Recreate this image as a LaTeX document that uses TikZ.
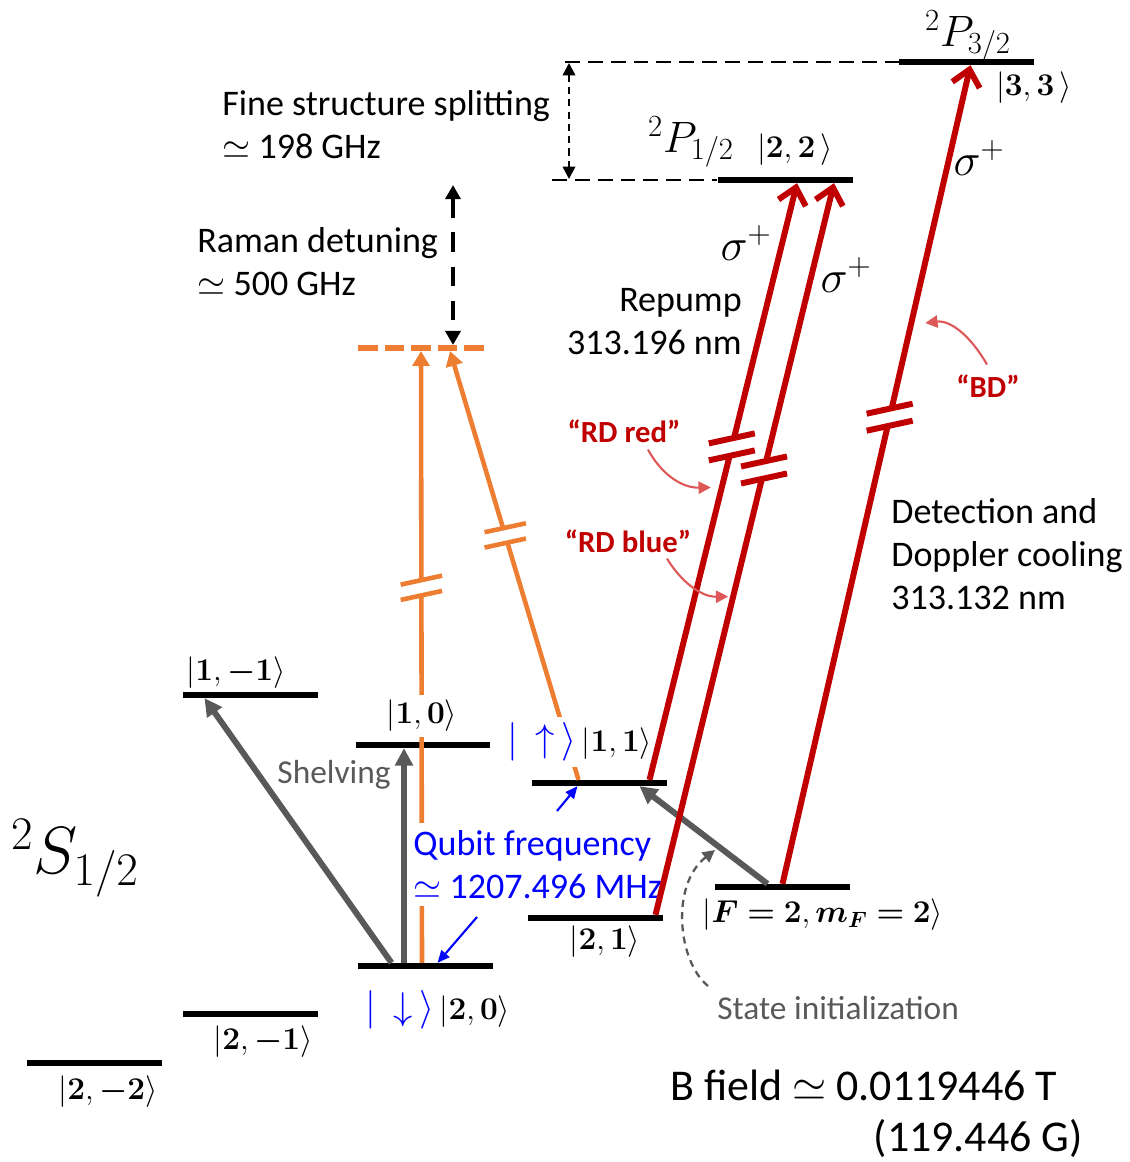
\documentclass[tikz,border=0pt]{standalone}
\usepackage{fix-cm}
\usepackage{amsmath}
\usepackage{bm}
\usepackage{fontspec}
\setmainfont{Carlito}
\usetikzlibrary{arrows.meta,calc}
\definecolor{rdark}{RGB}{192,0,0}
\definecolor{oran}{RGB}{237,125,49}
\definecolor{gdark}{RGB}{89,89,89}
\definecolor{rlight}{RGB}{222,88,88}
\begin{document}
\begin{tikzpicture}[x=0.02cm, y=-0.02cm,
  lvl/.style={fill=black, inner sep=0pt, minimum width=2.7cm, minimum height=3.2pt},
  ket/.style={font=\fontsize{18}{22}\selectfont, inner sep=1pt},
  txt/.style={font=\fontsize{20.5}{24.4}\selectfont, align=left, inner sep=0pt},
  lab/.style={font=\bfseries\fontsize{17.5}{20}\selectfont, text=rdark, inner sep=1pt},
  sig/.style={font=\fontsize{26}{30}\selectfont},
  gar/.style={draw=gdark, line width=3.4pt, -{Triangle[length=10pt,width=10pt]}},
  rar/.style={draw=rdark, line width=3.4pt, -{Straight Barb[length=9pt,width=16pt]}},
  oar/.style={draw=oran, line width=2.6pt, -{Triangle[length=8.5pt,width=9.5pt]}},
  blar/.style={draw=blue, line width=1.2pt, -{Triangle[length=7pt,width=6pt]}},
  note/.style={draw=rlight, line width=1.2pt, -{Triangle[length=7pt,width=7pt]}},
  brk/.pic={
    \fill[white] (-12,-5.9) -- (12,-11.1) -- (12,5.9) -- (-12,11.1) -- cycle;
    \draw (-23,-3.5) -- (23,-13.5);
    \draw (-23,13.5) -- (23,3.5);
  }
]
\useasboundingbox (0,0) rectangle (1129,1162);

\node[lvl] (s1m1) at (250.5,695) {};
\node[lvl] (s10) at (423,745) {};
\node[lvl] (s11) at (599.5,783) {};
\node[lvl] (s2m2) at (94.5,1063) {};
\node[lvl] (s2m1) at (250.5,1014) {};
\node[lvl] (s20) at (425.5,966) {};
\node[lvl] (s21) at (595.5,918) {};
\node[lvl] (s22) at (782.5,887) {};
\node[lvl] (p12) at (785,180) {};
\node[lvl] (p32) at (966.5,62) {};

\coordinate (ft) at (565,62);
\coordinate (fb) at (552,180);
\coordinate (fa) at (569,63);
\coordinate (fz) at (569,179);
\draw[line width=1.7pt, dash pattern=on 8.5pt off 4.5pt] (ft) -- (p32.west);
\draw[line width=1.7pt, dash pattern=on 8.5pt off 4.5pt] (fb) -- (p12.west);
\draw[line width=1.4pt, dash pattern=on 4pt off 3pt,
  {Triangle[length=7pt,width=7pt]}-{Triangle[length=7pt,width=7pt]}] (fa) -- (fz);

\coordinate (v1) at (421,351);
\coordinate (v2) at (450,351);
\draw[oran, line width=3.4pt, dash pattern=on 11.3pt off 3.8pt] (358,348) -- (488,348);
\coordinate (rt) at (453,185);
\coordinate (rb) at (453,345);
\draw[line width=2.6pt, dash pattern=on 11pt off 8.5pt,
  {Triangle[length=8pt,width=8.5pt]}-{Triangle[length=8pt,width=8.5pt]}] (rt) -- (rb);

\draw[oar] ($(s20.north)+(-3.5,0)$) -- (v1) coordinate[pos=0.613] (ko1);
\draw[oar] ($(s11.north)+(-21,0)$) -- (v2) coordinate[pos=0.57] (ko2);
\pic[oran, line width=2.6pt, scale=0.9] at (ko1) {brk};
\pic[oran, line width=2.6pt, scale=0.9] at (ko2) {brk};

\node[ket, fill=white, inner sep=3pt] (l10) at (422,716) {$|\bm{1},\bm{0}\rangle$};
\node[ket, fill=white, inner sep=3pt] (l11) at (580,742)
  {{\fontsize{22}{26}\selectfont\color{blue}$|\,\uparrow\,\rangle$}\,$|\bm{1},\bm{1}\rangle$};
\node[txt, text=blue, fill=white, inner sep=4pt,
  anchor=west] (qf) at (406,864.5) {Qubit frequency\\$\simeq$ 1207.496 MHz};

\draw[gar] ($(s20.north)+(-34,0)$) -- ($(s1m1.south)+(-46,0)$);
\draw[gar] ($(s20.north)+(-21.5,0)$) -- ($(s10.south)+(-19,0)$);
\draw[gar] ($(s22.north)+(-15,0)$) -- ($(s11.south)+(40,0)$);

\draw[rar] ($(s11.north)+(50,0)$) -- ($(p12.south)+(12,0)$)
  coordinate[pos=0.558] (kr1) coordinate[pos=0.49] (nr1);
\draw[rar] ($(s21.north)+(60,0)$) -- ($(p12.south)+(49,0)$)
  coordinate[pos=0.608] (kr2) coordinate[pos=0.435] (nr2);
\draw[rar] (s22.north) -- ($(p32.south)+(4,0)$)
  coordinate[pos=0.57] (kr3) coordinate[pos=0.685] (nr3);
\pic[rdark, line width=3.4pt] at (kr1) {brk};
\pic[rdark, line width=3.4pt] at (kr2) {brk};
\pic[rdark, line width=3.4pt] at (kr3) {brk};

\coordinate (qa) at (557,811);
\coordinate (qb) at (477,917);
\draw[blar] (qa) -- ($(s11.south)+(-22,0)$);
\draw[blar] (qb) -- ($(s20.north)+(12,0)$);

\node[lab] (rdr) at (624,431) {``RD red''};
\node[lab] (rdb) at (628,541) {``RD blue''};
\node[lab] (bd) at (988,386) {``BD''};
\draw[note] ($(rdr.south)+(24,5)$) .. controls (660,472) and (680,488) .. ($(nr1)+(-11,0)$);
\draw[note] ($(rdb.south)+(39,4)$) .. controls (680,580) and (700,597) .. ($(nr2)+(-5,0)$);
\draw[note] ($(bd.north)+(-1,-8)$) .. controls (970,335) and (950,320) .. ($(nr3)+(14,0)$);

\node[txt, anchor=west] (fs) at (222,124.5) {Fine structure splitting\\$\simeq$ 198 GHz};
\node[txt, anchor=west] (rd) at (197,261.5) {Raman detuning\\$\simeq$ 500 GHz};
\node[txt, align=right, anchor=east] (rp) at (742,322) {Repump\\313.196 nm};
\node[txt, anchor=west] (dc) at (891,554) {Detection and\\Doppler cooling\\313.132 nm};
\node[txt, text=gdark, font=\fontsize{19}{24}\selectfont] (sh) at (334,775) {Shelving};
\node[txt, text=gdark, font=\fontsize{19}{24}\selectfont, anchor=west] (si) at (717,1008)
  {State initialization};
\draw[draw=gdark, line width=1.3pt, dash pattern=on 4pt off 3pt, -{Triangle[length=7pt,width=7pt]}]
  ($(si.west)+(-9,-22)$) .. controls (678,962) and (670,885) .. (715,850);
\node[font=\fontsize{25}{30}\selectfont, anchor=west, inner sep=0pt] (bf) at (670,1085)
  {B field $\simeq$ 0.0119446 T};
\node[font=\fontsize{25}{30}\selectfont, anchor=east, inner sep=0pt] (bg) at (1083,1138)
  {(119.446 G)};

\node[ket] (k1m1) at (236,673) {$|\bm{1},\bm{-1}\rangle$};
\node[ket] (k2m2) at (108,1092) {$|\bm{2},\bm{-2}\rangle$};
\node[ket] (k2m1) at (263,1042) {$|\bm{2},\bm{-1}\rangle$};
\node[ket] (k21) at (605,942) {$|\bm{2},\bm{1}\rangle$};
\node[ket] (k22) at (823,915) {$|\bm{F=2},\bm{m_F=2}\rangle$};
\node[ket] (k20) at (438,1010)
  {{\fontsize{22}{26}\selectfont\color{blue}$|\,\downarrow\,\rangle$}\,$|\bm{2},\bm{0}\rangle$};
\node[sig, font=\fontsize{25}{30}\selectfont] (pl12) at (691,142) {$^2P_{1/2}$};
\node[ket] (kp22) at (795,150) {$|\bm{2},\bm{2}\,\rangle$};
\node[sig, font=\fontsize{25}{30}\selectfont] (pl32) at (968,36) {$^2P_{3/2}$};
\node[ket] (kp33) at (1034,88) {$|\bm{3},\bm{3}\,\rangle$};
\node[font=\fontsize{38}{44}\selectfont] (sl) at (75,858) {$^2S_{1/2}$};
\node[sig] (sg1) at (746,243) {$\sigma^+$};
\node[sig] (sg2) at (846,275) {$\sigma^+$};
\node[sig] (sg3) at (979,158) {$\sigma^+$};
\end{tikzpicture}
\end{document}
